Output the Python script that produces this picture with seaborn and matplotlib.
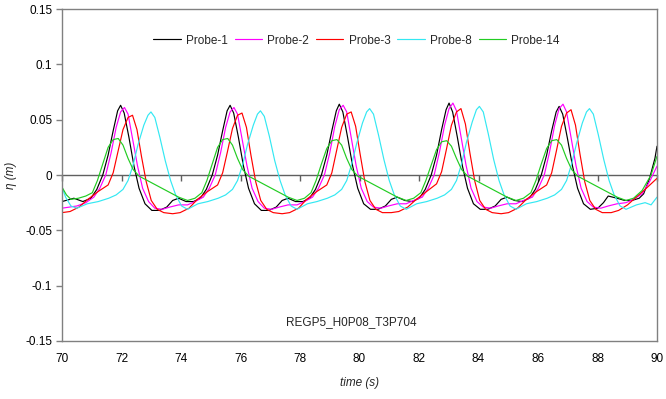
import matplotlib
matplotlib.use("Agg")
import matplotlib.pyplot as plt
import seaborn as sns
import pandas as pd

# ---- data ----
probes = ["Probe-1", "Probe-2", "Probe-3", "Probe-8", "Probe-14"]
colors = ["#000000", "#FF00FF", "#FF0000", "#33E8F2", "#22CC22"]

t_p1 = [70.00, 70.40, 70.70, 70.97,
        71.17, 71.37, 71.55, 71.72, 71.87, 71.97, 72.09, 72.25, 72.42, 72.59, 72.79, 73.02, 73.27, 73.52, 73.72, 73.92, 74.17, 74.42, 74.65,
        74.85, 75.05, 75.23, 75.40, 75.55, 75.65, 75.77, 75.93, 76.10, 76.27, 76.47, 76.70, 76.95, 77.20, 77.40, 77.60, 77.85, 78.10, 78.32,
        78.52, 78.72, 78.90, 79.07, 79.22, 79.32, 79.44, 79.60, 79.77, 79.94, 80.14, 80.37, 80.62, 80.87, 81.07, 81.27, 81.52, 81.77, 82.01,
        82.21, 82.41, 82.59, 82.76, 82.91, 83.01, 83.13, 83.29, 83.46, 83.63, 83.83, 84.06, 84.31, 84.56, 84.76, 84.96, 85.21, 85.46, 85.71,
        85.91, 86.11, 86.29, 86.46, 86.61, 86.71, 86.83, 86.99, 87.16, 87.33, 87.53, 87.76, 88.01, 88.20, 88.36, 88.66, 88.91, 89.16, 89.40,
        89.55, 89.75, 89.93, 90.00]
v_p1 = [-0.024, -0.021, -0.024, -0.021,
        -0.013, 0.000, 0.018, 0.040, 0.058, 0.063, 0.056, 0.034, 0.008, -0.012, -0.026, -0.032, -0.032, -0.029, -0.023, -0.021, -0.024, -0.024, -0.021,
        -0.013, 0.000, 0.018, 0.040, 0.058, 0.063, 0.056, 0.034, 0.008, -0.012, -0.026, -0.032, -0.032, -0.029, -0.023, -0.021, -0.024, -0.024, -0.021,
        -0.013, 0.000, 0.018, 0.040, 0.058, 0.064, 0.057, 0.034, 0.008, -0.012, -0.026, -0.031, -0.031, -0.028, -0.022, -0.020, -0.023, -0.024, -0.021,
        -0.013, 0.000, 0.018, 0.041, 0.059, 0.065, 0.057, 0.034, 0.008, -0.012, -0.026, -0.031, -0.031, -0.028, -0.022, -0.020, -0.023, -0.024, -0.021,
        -0.013, 0.000, 0.018, 0.040, 0.057, 0.062, 0.055, 0.033, 0.008, -0.012, -0.026, -0.031, -0.030, -0.025, -0.019, -0.021, -0.023, -0.023, -0.021,
        -0.017, -0.003, 0.015, 0.026]

t_p2 = [70.00, 70.50, 70.80, 71.07,
        71.27, 71.47, 71.65, 71.82, 71.97, 72.10, 72.22, 72.37, 72.54, 72.71, 72.91, 73.12, 73.37, 73.62, 73.92, 74.22, 74.47, 74.75,
        74.95, 75.15, 75.33, 75.50, 75.65, 75.78, 75.90, 76.05, 76.22, 76.39, 76.59, 76.80, 77.05, 77.30, 77.60, 77.90, 78.15, 78.42,
        78.62, 78.82, 79.00, 79.17, 79.32, 79.45, 79.57, 79.72, 79.89, 80.06, 80.26, 80.47, 80.72, 80.97, 81.27, 81.57, 81.82, 82.11,
        82.31, 82.51, 82.69, 82.86, 83.01, 83.14, 83.26, 83.41, 83.58, 83.75, 83.95, 84.16, 84.41, 84.66, 84.96, 85.26, 85.51, 85.81,
        86.01, 86.21, 86.39, 86.56, 86.71, 86.84, 86.96, 87.11, 87.28, 87.45, 87.65, 87.86, 88.11, 88.36, 88.66, 88.96, 89.21, 89.50,
        89.75, 90.00]
v_p2 = [-0.030, -0.028, -0.025, -0.020,
        -0.012, 0.000, 0.020, 0.043, 0.057, 0.061, 0.055, 0.033, 0.008, -0.012, -0.024, -0.030, -0.031, -0.029, -0.027, -0.027, -0.024, -0.020,
        -0.012, 0.000, 0.020, 0.043, 0.057, 0.061, 0.055, 0.033, 0.008, -0.012, -0.024, -0.030, -0.031, -0.029, -0.027, -0.027, -0.024, -0.020,
        -0.012, 0.000, 0.020, 0.044, 0.059, 0.063, 0.057, 0.034, 0.008, -0.012, -0.024, -0.029, -0.030, -0.028, -0.026, -0.026, -0.023, -0.020,
        -0.012, 0.000, 0.021, 0.045, 0.060, 0.065, 0.058, 0.035, 0.009, -0.012, -0.024, -0.029, -0.030, -0.028, -0.026, -0.026, -0.023, -0.020,
        -0.012, 0.000, 0.021, 0.045, 0.060, 0.064, 0.057, 0.034, 0.008, -0.012, -0.024, -0.029, -0.030, -0.028, -0.026, -0.025, -0.022, -0.017,
        -0.006, 0.008]

t_p3 = [70.00, 70.27, 70.57, 70.87,
        71.21, 71.55, 71.72, 71.88, 72.05, 72.22, 72.37, 72.52, 72.67, 72.83, 73.00, 73.20, 73.42, 73.72, 73.97, 74.27, 74.55,
        74.89, 75.23, 75.40, 75.56, 75.73, 75.90, 76.05, 76.20, 76.35, 76.51, 76.68, 76.88, 77.10, 77.40, 77.65, 77.95, 78.22,
        78.56, 78.90, 79.07, 79.23, 79.40, 79.57, 79.72, 79.87, 80.02, 80.18, 80.35, 80.55, 80.77, 81.07, 81.32, 81.62, 81.91,
        82.25, 82.59, 82.76, 82.92, 83.09, 83.26, 83.41, 83.56, 83.71, 83.87, 84.04, 84.24, 84.46, 84.76, 85.01, 85.31, 85.61,
        85.95, 86.29, 86.46, 86.62, 86.79, 86.96, 87.11, 87.26, 87.41, 87.57, 87.74, 87.94, 88.16, 88.46, 88.71, 89.01, 89.30,
        89.60, 90.00]
v_p3 = [-0.034, -0.033, -0.029, -0.022,
        -0.015, -0.009, 0.002, 0.021, 0.041, 0.052, 0.054, 0.041, 0.017, -0.006, -0.023, -0.031, -0.034, -0.035, -0.034, -0.030, -0.022,
        -0.015, -0.009, 0.002, 0.021, 0.042, 0.054, 0.056, 0.043, 0.018, -0.006, -0.023, -0.031, -0.034, -0.035, -0.034, -0.030, -0.022,
        -0.015, -0.009, 0.002, 0.022, 0.043, 0.055, 0.057, 0.044, 0.019, -0.006, -0.023, -0.031, -0.034, -0.034, -0.033, -0.029, -0.022,
        -0.015, -0.008, 0.003, 0.023, 0.045, 0.057, 0.060, 0.046, 0.020, -0.005, -0.023, -0.031, -0.034, -0.035, -0.034, -0.030, -0.022,
        -0.015, -0.009, 0.002, 0.022, 0.044, 0.056, 0.059, 0.045, 0.019, -0.006, -0.023, -0.031, -0.034, -0.034, -0.032, -0.027, -0.020,
        -0.013, -0.003]

t_p8 = [70.00, 70.12, 70.30, 70.50, 70.85, 71.22,
        71.57, 71.82, 72.05, 72.22, 72.39, 72.55, 72.75, 72.89, 72.99, 73.12, 73.29, 73.47, 73.65, 73.82, 74.02, 74.22, 74.57, 74.90,
        75.25, 75.50, 75.73, 75.90, 76.07, 76.23, 76.43, 76.57, 76.67, 76.80, 76.97, 77.15, 77.33, 77.50, 77.70, 77.90, 78.25, 78.57,
        78.92, 79.17, 79.40, 79.57, 79.74, 79.90, 80.10, 80.24, 80.34, 80.47, 80.64, 80.82, 81.00, 81.17, 81.37, 81.57, 81.92, 82.26,
        82.61, 82.86, 83.09, 83.26, 83.43, 83.59, 83.79, 83.93, 84.03, 84.16, 84.33, 84.51, 84.69, 84.86, 85.06, 85.26, 85.61, 85.96,
        86.31, 86.56, 86.79, 86.96, 87.13, 87.29, 87.49, 87.63, 87.73, 87.86, 88.03, 88.21, 88.39, 88.56, 88.76, 88.96, 89.31, 89.60,
        89.80, 90.00]
v_p8 = [-0.011, -0.020, -0.028, -0.030, -0.026, -0.024,
        -0.021, -0.018, -0.013, -0.005, 0.009, 0.027, 0.045, 0.054, 0.057, 0.052, 0.034, 0.013, -0.005, -0.018, -0.028, -0.031, -0.026, -0.024,
        -0.021, -0.018, -0.013, -0.005, 0.009, 0.027, 0.045, 0.055, 0.058, 0.053, 0.035, 0.013, -0.005, -0.018, -0.028, -0.031, -0.026, -0.024,
        -0.021, -0.018, -0.013, -0.005, 0.010, 0.028, 0.047, 0.057, 0.060, 0.055, 0.036, 0.014, -0.005, -0.018, -0.028, -0.031, -0.026, -0.024,
        -0.021, -0.018, -0.013, -0.005, 0.010, 0.029, 0.048, 0.059, 0.062, 0.057, 0.037, 0.014, -0.005, -0.018, -0.028, -0.031, -0.026, -0.024,
        -0.021, -0.018, -0.013, -0.005, 0.010, 0.028, 0.047, 0.057, 0.060, 0.055, 0.036, 0.014, -0.005, -0.018, -0.028, -0.031, -0.027, -0.025,
        -0.027, -0.020]

t_p14 = [70.00, 70.15, 70.30, 70.55, 70.80, 71.02,
         71.19, 71.37, 71.55, 71.72, 71.89, 72.05, 72.22, 72.39, 72.59, 72.87, 73.22, 73.57, 73.92, 74.22, 74.47, 74.70,
         74.87, 75.05, 75.23, 75.40, 75.57, 75.73, 75.90, 76.07, 76.27, 76.55, 76.90, 77.25, 77.60, 77.90, 78.15, 78.37,
         78.54, 78.72, 78.90, 79.07, 79.24, 79.40, 79.57, 79.74, 79.94, 80.22, 80.57, 80.92, 81.27, 81.57, 81.82, 82.06,
         82.23, 82.41, 82.59, 82.76, 82.93, 83.09, 83.26, 83.43, 83.63, 83.91, 84.26, 84.61, 84.96, 85.26, 85.51, 85.76,
         85.93, 86.11, 86.29, 86.46, 86.63, 86.79, 86.96, 87.13, 87.33, 87.61, 87.96, 88.31, 88.66, 88.96, 89.21, 89.50,
         89.80, 90.00]
v_p14 = [-0.011, -0.018, -0.022, -0.021, -0.019, -0.016,
         -0.005, 0.010, 0.025, 0.032, 0.033, 0.027, 0.015, 0.005, -0.001, -0.005, -0.010, -0.015, -0.020, -0.023, -0.021, -0.016,
         -0.005, 0.010, 0.025, 0.032, 0.033, 0.027, 0.015, 0.005, -0.001, -0.005, -0.010, -0.015, -0.020, -0.023, -0.021, -0.016,
         -0.005, 0.010, 0.024, 0.031, 0.032, 0.027, 0.015, 0.005, -0.001, -0.005, -0.010, -0.015, -0.020, -0.023, -0.021, -0.016,
         -0.005, 0.009, 0.023, 0.030, 0.031, 0.026, 0.015, 0.005, -0.001, -0.005, -0.010, -0.015, -0.020, -0.023, -0.021, -0.016,
         -0.005, 0.010, 0.024, 0.031, 0.032, 0.027, 0.015, 0.005, -0.001, -0.005, -0.010, -0.015, -0.020, -0.023, -0.021, -0.014,
         0.000, 0.017]

x_ticks = [70, 72, 74, 76, 78, 80, 82, 84, 86, 88, 90]
y_ticks = [-0.15, -0.1, -0.05, 0, 0.05, 0.1, 0.15]
y_tick_labels = ["-0.15", "-0.1", "-0.05", "0", "0.05", "0.1", "0.15"]
annotation = "REGP5_H0P08_T3P704"

# ---- build long table ----
series_t = [t_p1, t_p2, t_p3, t_p8, t_p14]
series_v = [v_p1, v_p2, v_p3, v_p8, v_p14]
frames = []
for name, tt, vv in zip(probes, series_t, series_v):
    frames.append(pd.DataFrame({"time": tt, "eta": vv, "probe": name}))
df = pd.concat(frames, ignore_index=True)

sns.set_theme(style="white")
plt.rcParams["font.family"] = ["Liberation Sans", "DejaVu Sans"]

fig = plt.figure(figsize=(6.66, 3.99), dpi=100)
ax = fig.add_axes([0.0931, 0.1454, 0.8934, 0.8320])

sns.lineplot(data=df, x="time", y="eta", hue="probe", hue_order=probes,
             palette=dict(zip(probes, colors)), estimator=None, sort=True,
             linewidth=0.85, ax=ax, legend=True)

ax.set_xlim(70, 90)
ax.set_ylim(-0.15, 0.15)
ax.set_xticks(x_ticks)
ax.set_xticklabels([str(v) for v in x_ticks])
ax.set_yticks(y_ticks)
ax.set_yticklabels(y_tick_labels)

for s in ax.spines.values():
    s.set_color("#808080")
    s.set_linewidth(1.0)
    s.set_visible(True)

ax.tick_params(axis="x", length=0, pad=9, labelsize=8.5, labelcolor="black")
ax.tick_params(axis="y", direction="out", length=4, width=1, color="#808080",
               left=True, labelsize=8.5, labelcolor="black", pad=3)

# zero axis line with tick marks pointing down (no labels)
sec = ax.secondary_xaxis(0.5)
sec.set_xticks(x_ticks)
sec.set_xticklabels([""] * len(x_ticks))
sec.tick_params(axis="x", direction="in", length=4, width=1, color="#606060",
                labelbottom=False, labeltop=False)
for sp in sec.spines.values():
    sp.set_color("#606060")
    sp.set_linewidth(1.0)

ax.set_xlabel("time (s)", fontsize=8.5, style="italic", labelpad=8)
ax.set_ylabel("η (m)", fontsize=8.5, style="italic", labelpad=6)

handles, labels = ax.get_legend_handles_labels()
ax.legend(handles, labels, loc="center", bbox_to_anchor=(0.495, 0.905), ncol=5,
          frameon=False, fontsize=8.5, handlelength=2.3, handletextpad=0.45,
          columnspacing=0.6)

ax.text(0.487, 0.058, annotation, transform=ax.transAxes, ha="center", va="center",
        fontsize=8.5)

fig.savefig("out.png", dpi=100)
